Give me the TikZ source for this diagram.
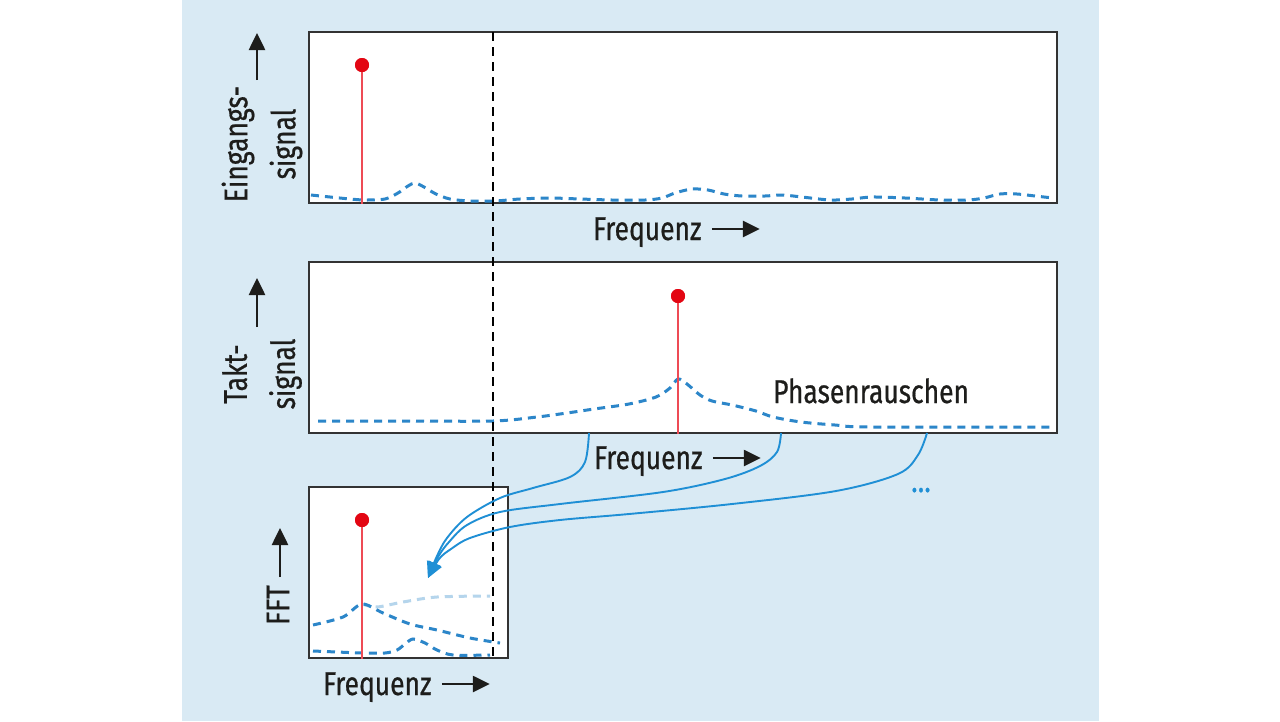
\documentclass[tikz,border=0pt]{standalone}
\usepackage{fontspec}
\newfontfamily\lblfamily[FakeStretch=0.8,FakeBold=0.6]{Fira Sans}
\newcommand\lblfont{\lblfamily\fontsize{33}{48}\selectfont}
\usetikzlibrary{arrows.meta}
\definecolor{panel}{HTML}{D9EAF4}
\definecolor{noise}{HTML}{2C86C9}
\definecolor{linkc}{HTML}{1F8FD5}
\definecolor{tone}{HTML}{E30613}
\definecolor{stem}{HTML}{EE4B55}
\definecolor{frame}{HTML}{333333}
\definecolor{ink}{HTML}{1D1D1B}
\begin{document}
\begin{tikzpicture}[x=1pt,y=-1pt,
  plotbox/.style={draw=frame,line width=2.2pt,fill=white,inner sep=0pt},
  noisy/.style={draw=noise,line width=3pt,dash pattern=on 8pt off 6pt},
  faded/.style={noisy,draw=noise!35},
  stemline/.style={draw=stem,line width=2.3pt},
  tonedot/.style={circle,fill=tone,inner sep=0pt,minimum size=14pt},
  axarrow/.style={draw=ink,line width=2.6pt,-{Triangle[length=17pt,width=16pt]}},
  linkarrow/.style={draw=linkc,line width=1.9pt,-{Triangle[length=16pt,width=14pt]}},
  lbl/.style={text=ink,inner sep=0pt,font=\lblfont},
  guide/.style={draw=black,line width=2.8pt,dash pattern=on 9pt off 6pt}
]
\useasboundingbox (0,0) rectangle (1280,721);
\fill[white] (0,0) rectangle (1280,721);
\fill[panel] (182,0) rectangle (1099,721);

% boxes
\node[plotbox,minimum width=748pt,minimum height=171pt] (top) at (683,117.5) {};
\node[plotbox,minimum width=748pt,minimum height=171pt] (mid) at (683,347.5) {};
\node[plotbox,minimum width=199pt,minimum height=171pt] (fft) at (408.5,572.5) {};

% noise curves
\draw[noisy] plot[smooth,tension=0.5] coordinates {(311,195) (330,197) (350,199) (365,200) (385,199) (398,193) (408,186) (415,183) (424,187) (436,194) (450,199) (470,201) (495,201) (520,199) (550,198) (580,199) (612,200) (645,200) (662,198) (675,193) (692,189) (708,190) (724,194) (742,196) (765,196) (782,195) (802,197) (830,200) (852,199) (872,197) (905,198) (940,200) (968,200) (984,198) (1000,194) (1017,194) (1035,196) (1053,198)};
\draw[noisy] plot[smooth,tension=0.5] coordinates {(318,421) (400,421) (493,421) (537,417) (567,413) (594,409) (629,404) (656,397) (670,388) (678,379) (687,384) (700,395) (712,401) (732,405) (756,411) (773,417) (801,422) (835,425) (870,427) (1053,427)};
\draw[faded] plot[smooth,tension=0.5] coordinates {(362,604) (377,607) (403,602) (437,597) (490,596)};
\draw[noisy] plot[smooth,tension=0.5] coordinates {(313,625) (343,617) (362,604) (383,613) (410,624) (437,630) (470,638) (500,643)};
\draw[noisy] plot[smooth,tension=0.5] coordinates {(313,651) (337,652) (362,653) (385,653) (397,650) (405,644) (413,639) (425,643) (437,650) (453,655) (490,655)};

% tones
\node[tonedot] (d1) at (362,65) {};
\node[tonedot] (d2) at (678,296) {};
\node[tonedot] (d3) at (362,520) {};
\draw[stemline] (d1.center) -- (d1 |- top.south);
\draw[stemline] (d2.center) -- (d2 |- mid.south);
\draw[stemline] (d3.center) -- (d3 |- fft.south);
\node[tonedot] at (d1) {};
\node[tonedot] at (d2) {};
\node[tonedot] at (d3) {};

% guide line
\coordinate (g1) at (493,32);
\coordinate (g2) at (493,658);
\draw[guide] (g1) -- (g2);

% connectors
\coordinate (s1) at (589,433);
\coordinate (s2) at (781,433);
\coordinate (s3) at (927,433);
\coordinate (tip) at (428,578);
\draw[linkarrow] plot[smooth,tension=0.55] coordinates {(s1) (585,462) (570,477) (533,488) (500,498) (467,517) (447,538) (437,556) (tip)};
\draw[linkarrow] plot[smooth,tension=0.55] coordinates {(s2) (777,452) (760,466) (725,479) (663,492) (560,504) (500,512) (467,525) (449,542) (438,557) (tip)};
\draw[linkarrow] plot[smooth,tension=0.55] coordinates {(s3) (918,455) (898,474) (836,491) (732,504) (629,514) (560,520) (510,527) (470,538) (451,549) (439,559) (tip)};
\node[text=linkc,inner sep=0pt,font=\lblfont,anchor=base] (more) at (921,492) {…};

% texts
\node[lbl,anchor=base west] (ph) at (773,403) {Phasenrauschen};
\node[lbl,anchor=base west] (f1) at (593,240) {Frequenz};
\node[lbl,anchor=base west] (f2) at (594,469) {Frequenz};
\node[lbl,anchor=base west] (f3) at (323,695) {Frequenz};
\draw[axarrow] ([shift={(10,-11)}]f1.base east) -- +(48,0);
\draw[axarrow] ([shift={(10,-11)}]f2.base east) -- +(48,0);
\draw[axarrow] ([shift={(10,-11)}]f3.base east) -- +(48,0);

\node[lbl,rotate=90,align=center] (l1) at (262,144) {Eingangs-\\signal};
\node[lbl,rotate=90,align=center] (l2) at (262,374) {Takt-\\signal};
\node[lbl,rotate=90] (l3) at (278,605) {FFT};
\draw[axarrow] (257,80) -- (257,33);
\draw[axarrow] (257,327) -- (257,278);
\draw[axarrow] (280,577) -- (280,528);
\end{tikzpicture}
\end{document}
